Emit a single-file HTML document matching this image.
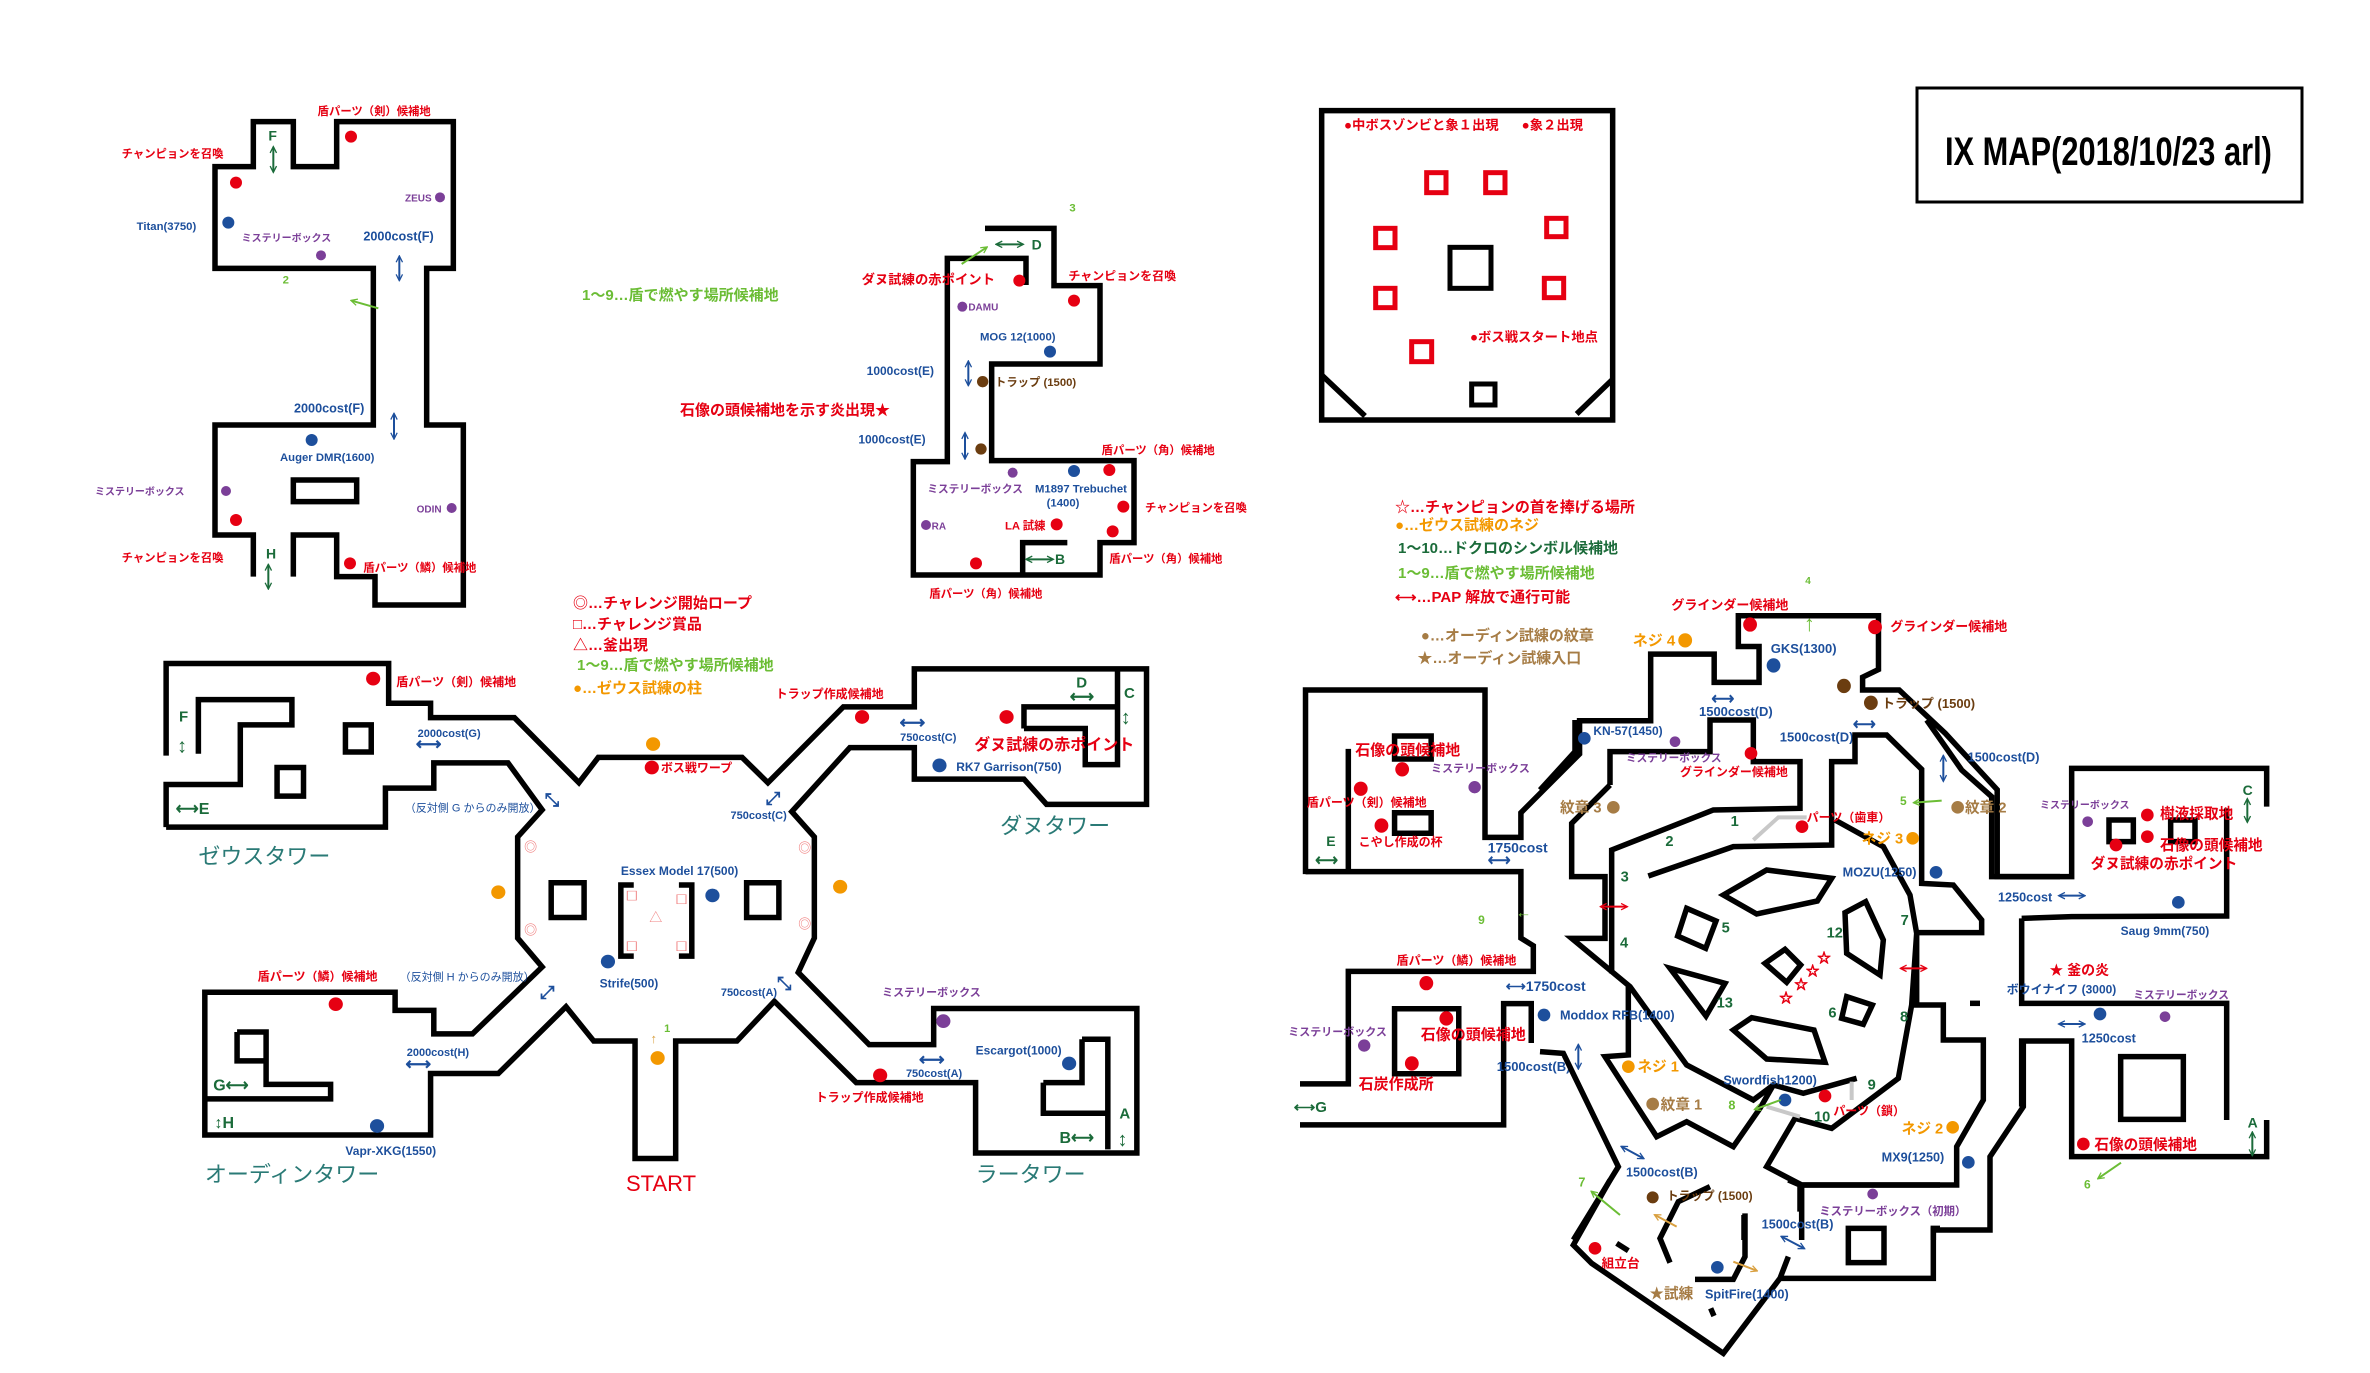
<!DOCTYPE html>
<html><head><meta charset="utf-8">
<style>
html,body{margin:0;padding:0;background:#fff;}
svg{display:block;}
text{font-family:"Liberation Sans","Noto Sans CJK JP",sans-serif;font-weight:bold;}
.w{fill:none;stroke:#000;stroke-width:5.5;vector-effect:non-scaling-stroke;stroke-linejoin:miter;}
.gr{fill:none;stroke:#c8c8c8;stroke-width:4;vector-effect:non-scaling-stroke;}
.r{fill:#e60012}.b{fill:#1d4f9c}.p{fill:#7b3f98}.g{fill:#6bbd35}.dg{fill:#1b6b3a}.o{fill:#f39800}.br{fill:#a67c45}.bn{fill:#6b3d10}.t{fill:#2a7a76;font-weight:normal}.pk{fill:#f08080}
.al{fill:none;stroke-width:6;}
</style></head><body>
<svg width="2370" height="1373" viewBox="0 0 2370 1373" xmlns="http://www.w3.org/2000/svg">
<defs>
<marker id="mb" viewBox="0 0 10 10" refX="8" refY="5" markerWidth="24" markerHeight="24" markerUnits="userSpaceOnUse" orient="auto-start-reverse"><path d="M1,1 L9,5 L1,9" fill="none" stroke="#1d4f9c" stroke-width="1.6"/></marker>
<marker id="mg" viewBox="0 0 10 10" refX="8" refY="5" markerWidth="24" markerHeight="24" markerUnits="userSpaceOnUse" orient="auto-start-reverse"><path d="M1,1 L9,5 L1,9" fill="none" stroke="#1b6b3a" stroke-width="1.6"/></marker>
<marker id="ml" viewBox="0 0 10 10" refX="8" refY="5" markerWidth="24" markerHeight="24" markerUnits="userSpaceOnUse" orient="auto-start-reverse"><path d="M1,1 L9,5 L1,9" fill="none" stroke="#6bbd35" stroke-width="1.6"/></marker>
<marker id="mo" viewBox="0 0 10 10" refX="8" refY="5" markerWidth="24" markerHeight="24" markerUnits="userSpaceOnUse" orient="auto-start-reverse"><path d="M1,1 L9,5 L1,9" fill="none" stroke="#d9a040" stroke-width="1.6"/></marker>
<marker id="mr" viewBox="0 0 10 10" refX="8" refY="5" markerWidth="24" markerHeight="24" markerUnits="userSpaceOnUse" orient="auto-start-reverse"><path d="M1,1 L9,5 L1,9" fill="none" stroke="#e60012" stroke-width="1.6"/></marker>
</defs>

<!-- Title -->
<rect x="1917" y="88" width="385" height="114" fill="none" stroke="#000" stroke-width="3"/>
<text transform="translate(1945 165) scale(0.77 1)" font-size="40" fill="#000">IX MAP(2018/10/23 arl)</text>

<!-- Legends -->
<text x="582" y="300" font-size="15" class="g">1～9…盾で燃やす場所候補地</text>
<text x="680" y="415" font-size="15" class="r">石像の頭候補地を示す炎出現★</text>
<g font-size="15">
<text x="573" y="608" class="r">◎…チャレンジ開始ロープ</text>
<text x="573" y="629" class="r">□…チャレンジ賞品</text>
<text x="573" y="650" class="r">△…釜出現</text>
<text x="577" y="670" class="g">1～9…盾で燃やす場所候補地</text>
<text x="573" y="693" class="o">●…ゼウス試練の柱</text>
</g>
<g font-size="15">
<text x="1395" y="512" class="r">☆…チャンピョンの首を捧げる場所</text>
<text x="1395" y="530" class="o">●…ゼウス試練のネジ</text>
<text x="1398" y="553" class="dg">1～10…ドクロのシンボル候補地</text>
<text x="1398" y="578" class="g">1～9…盾で燃やす場所候補地</text>
<text x="1395" y="602" class="r">⟷…PAP 解放で通行可能</text>
</g>

<!-- Boss room -->
<g transform="translate(1320,100) scale(0.33333)">
<path class="w" d="M5,32 L878,32 L878,960 L5,960 Z"/>
<path class="w" d="M5,825 L135,948 M878,838 L770,942"/>
<g fill="none" stroke="#e60012" stroke-width="15">
<rect x="320" y="218" width="58" height="60"/><rect x="497" y="218" width="58" height="60"/>
<rect x="167" y="385" width="58" height="58"/><rect x="680" y="355" width="58" height="55"/>
<rect x="167" y="565" width="58" height="58"/><rect x="673" y="535" width="58" height="58"/>
<rect x="275" y="725" width="60" height="60"/>
</g>
<g fill="none" stroke="#000" stroke-width="15">
<rect x="390" y="442" width="123" height="123"/><rect x="455" y="852" width="70" height="63"/>
</g>
<text x="72" y="88" font-size="40" class="r">●中ボスゾンビと象１出現</text>
<text x="605" y="88" font-size="40" class="r">●象２出現</text>
<text x="450" y="725" font-size="40" class="r">●ボス戦スタート地点</text>
</g>

<!-- Top-left map (Z3) -->
<g transform="translate(90,100) scale(0.33333)">
<path class="w" d="M490,1430 L490,1305 L375,1305 L375,975 L850,975 L850,505 L375,505 L375,200 L490,200 L490,65 L610,65 L610,200 L740,200 L740,65 L1090,65 L1090,505 L1010,505 L1010,975 L1120,975 L1120,1515 L855,1515 L855,1430 L740,1430 L740,1305 L610,1305 L610,1430"/>
<rect class="w" x="610" y="1140" width="190" height="65"/>
<g font-size="34">
<text x="683" y="45" class="r">盾パーツ（剣）候補地</text>
<text x="95" y="172" class="r">チャンピョンを召喚</text>
<text x="535" y="122" font-size="42" class="dg">F</text>
<text x="945" y="305" font-size="30" class="p">ZEUS</text>
<text x="140" y="390" class="b">Titan(3750)</text>
<text x="455" y="425" font-size="30" class="p">ミステリーボックス</text>
<text x="820" y="422" font-size="38" class="b">2000cost(F)</text>
<text x="578" y="550" class="g">2</text>
<text x="612" y="938" font-size="38" class="b">2000cost(F)</text>
<text x="570" y="1083" class="b">Auger DMR(1600)</text>
<text x="15" y="1185" font-size="30" class="p">ミステリーボックス</text>
<text x="980" y="1238" font-size="30" class="p">ODIN</text>
<text x="95" y="1385" class="r">チャンピョンを召喚</text>
<text x="528" y="1375" font-size="42" class="dg">H</text>
<text x="820" y="1415" class="r">盾パーツ（鱗）候補地</text>
</g>
<circle cx="783" cy="110" r="18" class="r"/><circle cx="438" cy="248" r="18" class="r"/>
<circle cx="1050" cy="292" r="15" class="p"/><circle cx="415" cy="368" r="18" class="b"/>
<circle cx="693" cy="466" r="15" class="p"/><circle cx="665" cy="1020" r="18" class="b"/>
<circle cx="408" cy="1173" r="15" class="p"/><circle cx="1085" cy="1224" r="15" class="p"/>
<circle cx="438" cy="1260" r="18" class="r"/><circle cx="780" cy="1390" r="18" class="r"/>
<line x1="550" y1="142" x2="550" y2="215" stroke="#1b6b3a" class="al" marker-start="url(#mg)" marker-end="url(#mg)"/>
<line x1="928" y1="470" x2="928" y2="540" stroke="#1d4f9c" class="al" marker-start="url(#mb)" marker-end="url(#mb)"/>
<line x1="865" y1="625" x2="785" y2="602" stroke="#6bbd35" class="al" marker-end="url(#ml)"/>
<line x1="912" y1="942" x2="912" y2="1015" stroke="#1d4f9c" class="al" marker-start="url(#mb)" marker-end="url(#mb)"/>
<line x1="535" y1="1395" x2="535" y2="1465" stroke="#1b6b3a" class="al" marker-start="url(#mg)" marker-end="url(#mg)"/>
</g>

<!-- Top-center map (Z4) -->
<g transform="translate(850,190) scale(0.33333)">
<path class="w" d="M405,115 L612,115 L612,287 L750,287 L750,522 L425,522 L425,812 L852,812 L852,1058 L750,1058 L750,1155 L190,1155 L190,815 L292,815 L292,205 L528,205 L528,285"/>
<path class="w" d="M518,1150 L518,1058 L652,1058"/>
<g font-size="34">
<text x="658" y="65" class="g">3</text>
<text x="545" y="178" font-size="42" class="dg">D</text>
<text x="35" y="282" font-size="40" class="r">ダヌ試練の赤ポイント</text>
<text x="655" y="270" font-size="36" class="r">チャンピョンを召喚</text>
<text x="355" y="362" font-size="30" class="p">DAMU</text>
<text x="390" y="452" class="b">MOG 12(1000)</text>
<text x="50" y="555" font-size="36" class="b">1000cost(E)</text>
<text x="435" y="588" class="bn">トラップ (1500)</text>
<text x="25" y="760" font-size="36" class="b">1000cost(E)</text>
<text x="755" y="792" class="r">盾パーツ（角）候補地</text>
<text x="232" y="907" font-size="32" class="p">ミステリーボックス</text>
<text x="555" y="907" class="b">M1897 Trebuchet</text>
<text x="590" y="950" class="b">(1400)</text>
<text x="885" y="965" class="r">チャンピョンを召喚</text>
<text x="245" y="1018" font-size="30" class="p">RA</text>
<text x="465" y="1018" class="r">LA 試練</text>
<text x="615" y="1122" font-size="42" class="dg">B</text>
<text x="778" y="1118" class="r">盾パーツ（角）候補地</text>
<text x="238" y="1222" class="r">盾パーツ（角）候補地</text>
</g>
<circle cx="508" cy="272" r="18" class="r"/><circle cx="672" cy="332" r="18" class="r"/>
<circle cx="337" cy="350" r="15" class="p"/><circle cx="600" cy="485" r="18" class="b"/>
<circle cx="398" cy="575" r="17" class="bn"/><circle cx="393" cy="777" r="17" class="bn"/>
<circle cx="488" cy="848" r="15" class="p"/><circle cx="672" cy="843" r="18" class="b"/>
<circle cx="778" cy="840" r="18" class="r"/><circle cx="820" cy="950" r="18" class="r"/>
<circle cx="228" cy="1005" r="15" class="p"/><circle cx="620" cy="1003" r="18" class="r"/>
<circle cx="788" cy="1024" r="18" class="r"/><circle cx="378" cy="1120" r="18" class="r"/>
<line x1="440" y1="163" x2="518" y2="163" stroke="#1b6b3a" class="al" marker-start="url(#mg)" marker-end="url(#mg)"/>
<line x1="335" y1="222" x2="410" y2="172" stroke="#6bbd35" class="al" marker-end="url(#ml)"/>
<line x1="355" y1="515" x2="355" y2="585" stroke="#1d4f9c" class="al" marker-start="url(#mb)" marker-end="url(#mb)"/>
<line x1="345" y1="730" x2="345" y2="805" stroke="#1d4f9c" class="al" marker-start="url(#mb)" marker-end="url(#mb)"/>
<line x1="530" y1="1108" x2="608" y2="1108" stroke="#1b6b3a" class="al" marker-start="url(#mg)" marker-end="url(#mg)"/>
</g>

<!-- Center hub (Z2) -->
<g transform="translate(150,640) scale(0.645,0.3613)">
<path class="w" d="M25,518 L25,400 L140,400 L140,235 L220,235 L220,165 L75,165 L75,315"/>
<path class="w" d="M25,320 L25,65 L370,65 L370,175 L435,175 L435,215 L565,215 L665,395 L695,325 L918,325 L958,395 L1075,185 L1185,185 L1185,80 L1545,80 L1545,455 L1390,455 L1355,385 L1185,385 L1185,298 L1085,298 L995,475 L1030,545 L1030,825 L1005,920 L1115,1120 L1215,1120 L1215,1020 L1530,1020 L1530,1420 L1280,1420 L1280,1225 L1095,1225 L968,1000 L910,1110 L815,1110 L815,1435 L752,1435 L752,1110 L688,1110 L645,1015 L540,1200 L435,1200 L435,1370 L85,1370 L85,975 L380,975 L380,1025 L440,1025 L440,1090 L500,1090 L608,905 L570,825 L570,545 L608,470 L555,340 L440,340 L440,410 L365,410 L365,518 L25,518"/>
<path class="w" d="M1355,245 L1355,185 L1500,185 M1355,245 L1450,245 L1450,345 L1500,345 L1500,85"/>
<path class="w" d="M1385,1225 L1385,1310 L1485,1310 M1445,1105 L1445,1225 L1385,1225 M1445,1105 L1485,1105 L1485,1410"/>
<path class="w" d="M135,1085 L180,1085 L180,1230 L280,1230 L280,1270 L85,1270 M135,1085 L135,1165 L180,1165"/>
<path class="w" d="M303,235 L343,235 L343,310 L303,310 Z M197,353 L238,353 L238,432 L197,432 Z"/>
<path class="w" d="M622,672 L673,672 L673,768 L622,768 Z M925,672 L975,672 L975,768 L925,768 Z"/>
<path class="w" d="M750,678 L730,678 L730,875 L750,875 M820,678 L840,678 L840,875 L820,875"/>
<g fill="none" stroke="#f08080" stroke-width="1.5" style="vector-effect:non-scaling-stroke">
<rect x="740" y="695" width="14" height="25"/><rect x="817" y="705" width="14" height="25"/>
<rect x="740" y="835" width="14" height="25"/><rect x="817" y="835" width="14" height="25"/>
</g>
<g fill="#e60012"><ellipse cx="346" cy="107" rx="11" ry="19"/><ellipse cx="778" cy="353" rx="11" ry="19"/><ellipse cx="1104" cy="213" rx="11" ry="19"/><ellipse cx="1328" cy="213" rx="11" ry="19"/><ellipse cx="288" cy="1008" rx="11" ry="19"/><ellipse cx="1132" cy="1205" rx="11" ry="19"/></g>
<g fill="#f39800"><ellipse cx="780" cy="288" rx="11" ry="19"/><ellipse cx="540" cy="698" rx="11" ry="19"/><ellipse cx="1070" cy="683" rx="11" ry="19"/><ellipse cx="787" cy="1157" rx="11" ry="19"/></g>
<g fill="#1d4f9c"><ellipse cx="1224" cy="347" rx="11" ry="19"/><ellipse cx="872" cy="707" rx="11" ry="19"/><ellipse cx="710" cy="890" rx="11" ry="19"/><ellipse cx="1425" cy="1172" rx="11" ry="19"/><ellipse cx="352" cy="1345" rx="11" ry="19"/></g>
<ellipse cx="1230" cy="1055" rx="11" ry="19" class="p"/>
<g font-size="12">
<text transform="translate(382 128) scale(1.5504 2.7678)" class="r">盾パーツ（剣）候補地</text>
<text transform="translate(45 225) scale(1.5504 2.7678)" font-size="15" class="dg">F</text>
<text transform="translate(42 312) scale(1.5504 2.7678)" font-size="20" class="dg">↕</text>
<text transform="translate(40 482) scale(1.5504 2.7678)" font-size="16" class="dg">⟷E</text>
<text transform="translate(415 268) scale(1.5504 2.7678)" font-size="11" class="b">2000cost(G)</text>
<text transform="translate(412 305) scale(1.5504 2.7678)" font-size="18" class="b">⟷</text>
<text transform="translate(395 475) scale(1.5504 2.7678)" font-size="11" class="b" style="font-weight:normal">（反対側 G からのみ開放）</text>
<text transform="translate(612 460) scale(1.5504 2.7678)" font-size="18" class="b">⤡</text>
<text transform="translate(75 620) scale(1.5504 2.7678)" font-size="22" class="t">ゼウスタワー</text>
<text transform="translate(792 365) scale(1.5504 2.7678)" class="r">ボス戦ワープ</text>
<text transform="translate(955 455) scale(1.5504 2.7678)" font-size="18" class="b">⤢</text>
<text transform="translate(900 495) scale(1.5504 2.7678)" font-size="11" class="b">750cost(C)</text>
<text transform="translate(970 160) scale(1.5504 2.7678)" class="r">トラップ作成候補地</text>
<text transform="translate(1162 245) scale(1.5504 2.7678)" font-size="18" class="b">⟷</text>
<text transform="translate(1163 280) scale(1.5504 2.7678)" font-size="11" class="b">750cost(C)</text>
<text transform="translate(1436 132) scale(1.5504 2.7678)" font-size="15" class="dg">D</text>
<text transform="translate(1426 172) scale(1.5504 2.7678)" font-size="17" class="dg">⟷</text>
<text transform="translate(1510 160) scale(1.5504 2.7678)" font-size="15" class="dg">C</text>
<text transform="translate(1505 232) scale(1.5504 2.7678)" font-size="20" class="dg">↕</text>
<text transform="translate(1278 305) scale(1.5504 2.7678)" font-size="16" class="r">ダヌ試練の赤ポイント</text>
<text transform="translate(1250 362) scale(1.5504 2.7678)" class="b">RK7 Garrison(750)</text>
<text transform="translate(1318 535) scale(1.5504 2.7678)" font-size="22" class="t">ダヌタワー</text>
<text transform="translate(580 585) scale(1.5504 2.7678)" font-size="13" class="pk">◎</text>
<text transform="translate(580 815) scale(1.5504 2.7678)" font-size="13" class="pk">◎</text>
<text transform="translate(1005 588) scale(1.5504 2.7678)" font-size="13" class="pk">◎</text>
<text transform="translate(1005 798) scale(1.5504 2.7678)" font-size="13" class="pk">◎</text>
<text transform="translate(774 780) scale(1.5504 2.7678)" font-size="13" class="pk" style="font-weight:normal">△</text>
<text transform="translate(730 650) scale(1.5504 2.7678)" class="b">Essex Model 17(500)</text>
<text transform="translate(697 962) scale(1.5504 2.7678)" class="b">Strife(500)</text>
<text transform="translate(885 985) scale(1.5504 2.7678)" font-size="11" class="b">750cost(A)</text>
<text transform="translate(972 967) scale(1.5504 2.7678)" font-size="18" class="b">⤡</text>
<text transform="translate(167 942) scale(1.5504 2.7678)" class="r">盾パーツ（鱗）候補地</text>
<text transform="translate(387 942) scale(1.5504 2.7678)" font-size="11" class="b" style="font-weight:normal">（反対側 H からのみ開放）</text>
<text transform="translate(605 992) scale(1.5504 2.7678)" font-size="18" class="b">⤢</text>
<text transform="translate(1135 985) scale(1.5504 2.7678)" font-size="11" class="p">ミステリーボックス</text>
<text transform="translate(398 1152) scale(1.5504 2.7678)" font-size="11" class="b">2000cost(H)</text>
<text transform="translate(396 1190) scale(1.5504 2.7678)" font-size="18" class="b">⟷</text>
<text transform="translate(797 1085) scale(1.5504 2.7678)" font-size="11" class="g">1</text>
<text transform="translate(776 1115) scale(1.5504 2.7678)" font-size="13" fill="#d9a040">↑</text>
<text transform="translate(1280 1147) scale(1.5504 2.7678)" class="b">Escargot(1000)</text>
<text transform="translate(1192 1177) scale(1.5504 2.7678)" font-size="18" class="b">⟷</text>
<text transform="translate(1172 1210) scale(1.5504 2.7678)" font-size="11" class="b">750cost(A)</text>
<text transform="translate(1032 1278) scale(1.5504 2.7678)" class="r">トラップ作成候補地</text>
<text transform="translate(98 1247) scale(1.5504 2.7678)" font-size="16" class="dg">G⟷</text>
<text transform="translate(100 1350) scale(1.5504 2.7678)" font-size="16" class="dg">↕H</text>
<text transform="translate(303 1425) scale(1.5504 2.7678)" class="b">Vapr-XKG(1550)</text>
<text transform="translate(1503 1325) scale(1.5504 2.7678)" font-size="15" class="dg">A</text>
<text transform="translate(1500 1400) scale(1.5504 2.7678)" font-size="20" class="dg">↕</text>
<text transform="translate(1410 1392) scale(1.5504 2.7678)" font-size="16" class="dg">B⟷</text>
<text transform="translate(85 1500) scale(1.5504 2.7678)" font-size="22" class="t">オーディンタワー</text>
<text transform="translate(738 1525) scale(1.5504 2.7678)" font-size="22" class="r" style="font-weight:normal">START</text>
<text transform="translate(1280 1500) scale(1.5504 2.7678)" font-size="22" class="t">ラータワー</text>
</g>
</g>

<!-- Right big map: Z1 -->
<g transform="translate(1300,580) scale(0.6903,0.5116)">
<path class="w" d="M8,575 L8,215 L268,215 L268,503 L320,503 L320,455 L405,340 L405,275 L508,275 L508,145 L600,145 L600,200 L665,200 L665,130 L635,130 L635,70 L838,70 L838,175 L815,190 L815,215 L868,215 L935,300 L1010,410 L1010,585"/>
<path class="w" d="M70,330 L70,570"/>
<path class="w" d="M8,570 L320,570 L320,700 L338,715 L338,765 L70,765 L70,985 L0,985"/>
<path class="w" d="M137,305 L190,305 L190,350 L137,350 Z M137,455 L190,455 L190,495 L137,495 Z"/>
<path class="w" d="M137,838 L230,838 L230,965 L137,965 Z"/>
<path class="w" d="M0,1065 L295,1065 L295,828 L335,828 L335,905"/>
<g fill="#e60012"><ellipse cx="148" cy="370" rx="10" ry="14"/><ellipse cx="88" cy="408" rx="10" ry="14"/><ellipse cx="118" cy="480" rx="10" ry="14"/><ellipse cx="183" cy="788" rx="10" ry="14"/><ellipse cx="212" cy="857" rx="10" ry="14"/><ellipse cx="162" cy="945" rx="10" ry="14"/><ellipse cx="652" cy="87" rx="10" ry="14"/><ellipse cx="833" cy="92" rx="10" ry="14"/></g>
<g fill="#7b3f98"><ellipse cx="253" cy="405" rx="9" ry="12"/><ellipse cx="93" cy="910" rx="9" ry="12"/></g>
<ellipse cx="558" cy="118" rx="10" ry="14" class="o"/>
<ellipse cx="686" cy="167" rx="10" ry="14" class="b"/>
<ellipse cx="788" cy="207" rx="10" ry="14" class="bn"/>
<ellipse cx="827" cy="240" rx="10" ry="14" class="bn"/>
<g font-size="13">
<text transform="translate(538 58) scale(1.4487 1.9547)" class="r">グラインダー候補地</text>
<text transform="translate(732 8) scale(1.4487 1.9547)" font-size="10" class="g">4</text>
<text transform="translate(730 100) scale(1.4487 1.9547)" font-size="22" class="g" style="font-weight:normal">↑</text>
<text transform="translate(855 100) scale(1.4487 1.9547)" class="r">グラインダー候補地</text>
<text transform="translate(175 118) scale(1.4487 1.9547)" font-size="15" class="br">●…オーディン試練の紋章</text>
<text transform="translate(170 162) scale(1.4487 1.9547)" font-size="15" class="br">★…オーディン試練入口</text>
<text transform="translate(482 128) scale(1.4487 1.9547)" font-size="15" class="o">ネジ 4</text>
<text transform="translate(682 143) scale(1.4487 1.9547)" class="b">GKS(1300)</text>
<text transform="translate(843 250) scale(1.4487 1.9547)" class="bn">トラップ (1500)</text>
<text transform="translate(596 242) scale(1.4487 1.9547)" font-size="16" class="b">⟷</text>
<text transform="translate(578 266) scale(1.4487 1.9547)" class="b">1500cost(D)</text>
<text transform="translate(801 292) scale(1.4487 1.9547)" font-size="16" class="b">⟷</text>
<text transform="translate(695 316) scale(1.4487 1.9547)" class="b">1500cost(D)</text>
<text transform="translate(80 342) scale(1.4487 1.9547)" font-size="15" class="r">石像の頭候補地</text>
<text transform="translate(190 375) scale(1.4487 1.9547)" font-size="11" class="p">ミステリーボックス</text>
<text transform="translate(10 443) scale(1.4487 1.9547)" font-size="12" class="r">盾パーツ（剣）候補地</text>
<text transform="translate(85 520) scale(1.4487 1.9547)" font-size="12" class="r">こやし作成の杯</text>
<text transform="translate(38 520) scale(1.4487 1.9547)" font-size="14" class="dg">E</text>
<text transform="translate(22 558) scale(1.4487 1.9547)" font-size="16" class="dg">⟷</text>
<text transform="translate(272 533) scale(1.4487 1.9547)" font-size="14" class="b">1750cost</text>
<text transform="translate(272 558) scale(1.4487 1.9547)" font-size="16" class="b">⟷</text>
<text transform="translate(258 672) scale(1.4487 1.9547)" font-size="12" class="g">9</text>
<text transform="translate(312 660) scale(1.4487 1.9547)" font-size="16" class="g">←</text>
<text transform="translate(140 752) scale(1.4487 1.9547)" font-size="12" class="r">盾パーツ（鱗）候補地</text>
<text transform="translate(298 803) scale(1.4487 1.9547)" font-size="14" class="b">⟷1750cost</text>
<text transform="translate(-17 890) scale(1.4487 1.9547)" font-size="11" class="p">ミステリーボックス</text>
<text transform="translate(175 898) scale(1.4487 1.9547)" font-size="15" class="r">石像の頭候補地</text>
<text transform="translate(85 995) scale(1.4487 1.9547)" font-size="15" class="r">石炭作成所</text>
<text transform="translate(-9 1040) scale(1.4487 1.9547)" font-size="15" class="dg">⟷G</text>
<text transform="translate(285 960) scale(1.4487 1.9547)" font-size="13" class="b">1500cost(B)</text>
</g>
</g>

<!-- Ring (Z5) -->
<g transform="translate(1540,720) scale(0.33333)">
<path class="w" d="M0,210 L105,95 L105,0"/>
<path class="w" d="M210,195 L210,95 L510,95 L510,0 L640,0 L640,125 L780,125 L780,265 L520,270 L215,390 L215,760"/>
<path class="w" d="M210,195 L95,310 L95,470 L195,470 L195,655 L95,655 L270,800 L440,1035 L640,1140 L700,1095 L790,1120 L950,1075"/>
<path class="w" d="M265,800 L265,1005 L195,1010 L350,1250 L440,1205 L580,1280 L660,1165 L700,1095"/>
<path class="w" d="M0,995 L70,1000 L235,1340 L100,1560"/>
<path class="w" d="M325,468 L580,380 L875,375 L875,125 L945,125 L945,45 L1040,45 L1145,148 L1145,490 L1240,495 L1325,600 L1325,638 L1130,638 L1130,855 L1210,855 L1210,960 L1330,960 L1330,1140 L1250,1280 L1250,1395 L785,1395 L680,1340 L765,1195 L875,1225 L1075,1075 L1115,855 L1130,640 L1110,525 L1030,380 L885,300"/>
<path class="w" d="M1160,0 L1265,150 L1355,230 L1355,470 L1560,470"/>
<path class="w" d="M1290,850 L1320,850"/>
<path class="w" d="M1450,960 L1450,1160 L1350,1310 L1350,1530 L1180,1530 L1180,1560"/>
<path class="w" d="M785,1395 L785,1560 M612,1485 L612,1560"/>
<path class="gr" d="M640,360 L715,292 L800,292 M680,1160 L780,1190 M935,1085 L935,1140"/>
<path class="w" d="M550,525 L680,450 L875,475 L832,543 L650,582 Z"/>
<path class="w" d="M440,565 L528,603 L497,685 L413,648 Z"/>
<path class="w" d="M915,578 L977,545 L1030,660 L1020,765 L920,700 Z"/>
<path class="w" d="M675,730 L735,688 L782,735 L740,787 Z"/>
<path class="w" d="M390,745 L555,790 L498,888 Z"/>
<path class="w" d="M920,830 L997,855 L970,913 L905,895 Z"/>
<path class="w" d="M580,930 L635,893 L822,930 L855,1027 L680,1017 Z"/>
<g font-size="40" fill="#fff" stroke="#e60012" stroke-width="2.5" style="font-weight:normal">
<text x="832" y="727">☆</text><text x="798" y="767">☆</text><text x="763" y="807">☆</text><text x="718" y="847">☆</text>
</g>
<circle cx="133" cy="55" r="19" class="b"/><circle cx="405" cy="65" r="16" class="p"/>
<circle cx="633" cy="100" r="19" class="r"/><circle cx="1253" cy="262" r="19" class="br"/>
<circle cx="220" cy="262" r="19" class="br"/><circle cx="786" cy="320" r="19" class="r"/>
<circle cx="1118" cy="355" r="19" class="o"/><circle cx="1188" cy="457" r="19" class="b"/>
<circle cx="12" cy="885" r="19" class="b"/><circle cx="265" cy="1040" r="19" class="o"/>
<circle cx="338" cy="1152" r="19" class="br"/><circle cx="735" cy="1140" r="19" class="b"/>
<circle cx="855" cy="1128" r="19" class="r"/><circle cx="1238" cy="1222" r="19" class="o"/>
<circle cx="1285" cy="1327" r="19" class="b"/>
<g font-size="38">
<text x="160" y="45" font-size="36" class="b">KN-57(1450)</text>
<text x="258" y="125" font-size="32" class="p">ミステリーボックス</text>
<text x="420" y="168" font-size="36" class="r">グラインダー候補地</text>
<text x="1283" y="125" class="b">1500cost(D)</text>
<text x="1080" y="255" font-size="36" class="g">5</text>
<text x="1275" y="278" font-size="44" class="br">紋章 2</text>
<text x="60" y="278" font-size="44" class="br">紋章 3</text>
<text x="800" y="305" font-size="36" class="r">パーツ（歯車）</text>
<text x="965" y="370" font-size="44" class="o">ネジ 3</text>
<text x="908" y="470" class="b">MOZU(1250)</text>
<text x="60" y="898" class="b">Moddox RFB(1400)</text>
<text x="292" y="1055" font-size="44" class="o">ネジ 1</text>
<text x="362" y="1168" font-size="44" class="br">紋章 1</text>
<text x="565" y="1168" class="g">8</text>
<text x="550" y="1093" class="b">Swordfish1200)</text>
<text x="880" y="1185" font-size="36" class="r">パーツ（鎖）</text>
<text x="1085" y="1240" font-size="44" class="o">ネジ 2</text>
<text x="1025" y="1325" class="b">MX9(1250)</text>
<text x="258" y="1370" class="b">1500cost(B)</text>
</g>
<g font-size="44" class="dg">
<text x="572" y="318">1</text><text x="376" y="378">2</text><text x="242" y="485">3</text><text x="240" y="683">4</text>
<text x="545" y="637">5</text><text x="860" y="653">12</text><text x="1082" y="615">7</text><text x="865" y="893">6</text>
<text x="530" y="862">13</text><text x="1080" y="905">8</text><text x="983" y="1108">9</text><text x="822" y="1205">10</text>
</g>
<line x1="1210" y1="108" x2="1210" y2="182" stroke="#1d4f9c" class="al" marker-start="url(#mb)" marker-end="url(#mb)"/>
<line x1="1205" y1="242" x2="1122" y2="248" stroke="#6bbd35" class="al" marker-end="url(#ml)"/>
<line x1="183" y1="560" x2="260" y2="560" stroke="#e60012" class="al" marker-start="url(#mr)" marker-end="url(#mr)"/>
<line x1="1083" y1="745" x2="1158" y2="745" stroke="#e60012" class="al" marker-start="url(#mr)" marker-end="url(#mr)"/>
<line x1="115" y1="975" x2="115" y2="1045" stroke="#1d4f9c" class="al" marker-start="url(#mb)" marker-end="url(#mb)"/>
<line x1="722" y1="1140" x2="645" y2="1168" stroke="#6bbd35" class="al" marker-end="url(#ml)"/>
<line x1="245" y1="1280" x2="310" y2="1315" stroke="#1d4f9c" class="al" marker-start="url(#mb)" marker-end="url(#mb)"/>
</g>

<!-- Bottom (Z11) -->
<g transform="translate(1560,1180) scale(0.33333)">
<path class="w" d="M150,0 L40,195 L95,250 L490,520 L660,295 L685,230"/>
<path class="w" d="M660,295 L1120,295 L1120,145 L1140,145"/>
<path class="w" d="M685,0 L720,15 L1140,15 M720,15 L720,95"/>
<path class="w" d="M450,20 L355,65 L300,175 L330,248"/>
<path class="w" d="M555,100 L555,230 L520,298 L405,298"/>
<path class="w" d="M170,190 L205,212 M452,385 L462,408"/>
<path class="w" d="M865,145 L972,145 L972,248 L865,248 Z"/>
<circle cx="278" cy="52" r="18" class="bn"/><circle cx="105" cy="205" r="19" class="r"/>
<circle cx="472" cy="262" r="19" class="b"/><circle cx="938" cy="42" r="16" class="p"/>
<text x="320" y="60" font-size="36" class="bn">トラップ (1500)</text>
<text x="125" y="262" font-size="38" class="r">組立台</text>
<text x="268" y="355" font-size="44" class="br">★試練</text>
<text x="435" y="355" font-size="38" class="b">SpitFire(1400)</text>
<text x="605" y="145" font-size="38" class="b">1500cost(B)</text>
<text x="778" y="105" font-size="34" class="p">ミステリーボックス（初期）</text>
<text x="55" y="20" font-size="38" class="g">7</text>
<line x1="180" y1="105" x2="95" y2="35" stroke="#6bbd35" class="al" marker-end="url(#ml)"/>
<line x1="350" y1="140" x2="285" y2="105" stroke="#d9a040" class="al" marker-end="url(#mo)"/>
<line x1="520" y1="245" x2="590" y2="272" stroke="#d9a040" class="al" marker-end="url(#mo)"/>
<line x1="665" y1="170" x2="732" y2="205" stroke="#1d4f9c" class="al" marker-start="url(#mb)" marker-end="url(#mb)"/>
</g>

<!-- Right room (Z12) -->
<g transform="translate(2000,740) scale(0.33333)">
<path class="w" d="M0,410 L215,410 L215,85 L800,85 L800,200"/>
<path class="w" d="M65,535 L215,530 L680,528 L680,205"/>
<path class="w" d="M65,535 L65,790 L680,790 L680,1140"/>
<path class="w" d="M65,1100 L65,903 L215,903 L215,1250 L800,1250 L800,1140"/>
<path class="w" d="M327,240 L400,240 L400,305 L327,305 Z M512,240 L585,240 L585,305 L512,305 Z"/>
<path class="w" d="M362,950 L550,950 L550,1138 L362,1138 Z"/>
<circle cx="263" cy="245" r="16" class="p"/><circle cx="442" cy="225" r="19" class="r"/>
<circle cx="442" cy="290" r="19" class="r"/><circle cx="348" cy="315" r="19" class="r"/>
<circle cx="535" cy="487" r="19" class="b"/><circle cx="300" cy="822" r="19" class="b"/>
<circle cx="495" cy="830" r="16" class="p"/><circle cx="250" cy="1212" r="19" class="r"/>
<text x="120" y="205" font-size="30" class="p">ミステリーボックス</text>
<text x="480" y="235" font-size="44" class="r">樹液採取地</text>
<text x="728" y="165" font-size="42" class="dg">C</text>
<text x="480" y="330" font-size="44" class="r">石像の頭候補地</text>
<text x="272" y="385" font-size="44" class="r">ダヌ試練の赤ポイント</text>
<text x="-6" y="485" font-size="38" class="b">1250cost</text>
<text x="362" y="585" font-size="36" class="b">Saug 9mm(750)</text>
<text x="148" y="705" font-size="42" class="r">★ 釜の炎</text>
<text x="20" y="760" font-size="36" class="b">ボウイナイフ (3000)</text>
<text x="400" y="775" font-size="32" class="p">ミステリーボックス</text>
<text x="245" y="907" font-size="38" class="b">1250cost</text>
<text x="743" y="1162" font-size="42" class="dg">A</text>
<text x="283" y="1228" font-size="44" class="r">石像の頭候補地</text>
<text x="252" y="1345" font-size="36" class="g">6</text>
<line x1="742" y1="178" x2="742" y2="245" stroke="#1b6b3a" class="al" marker-start="url(#mg)" marker-end="url(#mg)"/>
<line x1="178" y1="467" x2="253" y2="467" stroke="#1d4f9c" class="al" marker-start="url(#mb)" marker-end="url(#mb)"/>
<line x1="178" y1="852" x2="253" y2="852" stroke="#1d4f9c" class="al" marker-start="url(#mb)" marker-end="url(#mb)"/>
<line x1="757" y1="1178" x2="757" y2="1245" stroke="#1b6b3a" class="al" marker-start="url(#mg)" marker-end="url(#mg)"/>
<line x1="363" y1="1268" x2="295" y2="1315" stroke="#6bbd35" class="al" marker-end="url(#ml)"/>
</g>
</svg>
</body></html>
